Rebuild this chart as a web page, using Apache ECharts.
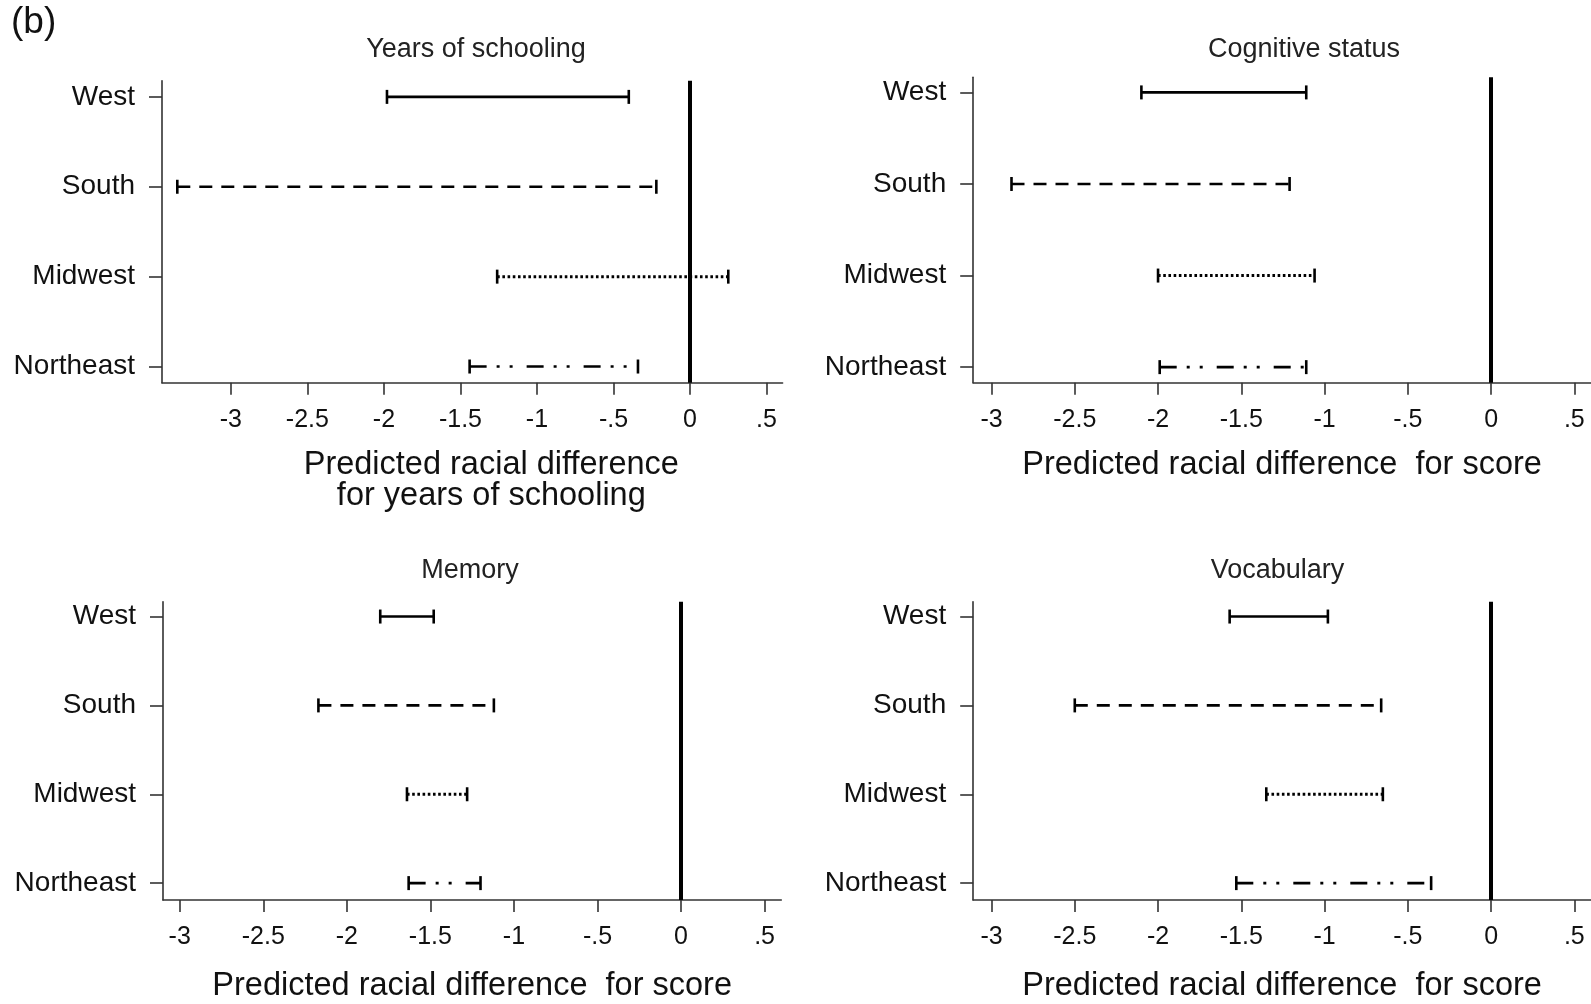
<!DOCTYPE html>
<html>
<head>
<meta charset="utf-8">
<script src="https://cdn.jsdelivr.net/npm/echarts@6/dist/echarts.min.js"></script>
<style>
html,body{margin:0;padding:0;background:#fff;}
#chart{width:1591px;height:1004px;}
</style>
</head>
<body>
<div id="chart"></div>
<script>
// ---------- data ----------
var categories = ['West', 'South', 'Midwest', 'Northeast'];
var tickValues = [-3, -2.5, -2, -1.5, -1, -0.5, 0, 0.5];
var tickLabels = ['-3', '-2.5', '-2', '-1.5', '-1', '-.5', '0', '.5'];

var panelTitles = ['Years of schooling', 'Cognitive status', 'Memory', 'Vocabulary'];
var axisTitles = [
  'Predicted racial difference\nfor years of schooling',
  'Predicted racial difference  for score',
  'Predicted racial difference  for score',
  'Predicted racial difference  for score'
];

var schoolingLow  = [-1.98, -3.35, -1.26, -1.44];
var schoolingHigh = [-0.40, -0.22,  0.25, -0.34];
var cognitiveLow  = [-2.10, -2.88, -2.00, -1.99];
var cognitiveHigh = [-1.11, -1.21, -1.06, -1.11];
var memoryLow     = [-1.80, -2.17, -1.64, -1.63];
var memoryHigh    = [-1.48, -1.12, -1.28, -1.20];
var vocabLow      = [-1.57, -2.50, -1.35, -1.53];
var vocabHigh     = [-0.98, -0.66, -0.65, -0.36];

var lows  = [schoolingLow, cognitiveLow, memoryLow, vocabLow];
var highs = [schoolingHigh, cognitiveHigh, memoryHigh, vocabHigh];

// ---------- layout / style ----------
var FONT = 'Liberation Sans, Arial, sans-serif';
var grids = [
  {left: 162,   top: 80.7,  width: 620.6, height: 302},
  {left: 973.2, top: 77.3,  width: 618.5, height: 305.4},
  {left: 163,   top: 601.7, width: 618.3, height: 307.8},
  {left: 973.2, top: 601.7, width: 618.5, height: 307.8}
];
var xRanges = [[-3.45, 0.605], [-3.11, 0.6], [-3.1, 0.6], [-3.11, 0.6]];
var yRanges = [[0.82, 4.18], [0.835, 4.17], [0.833, 4.19], [0.833, 4.19]];
var nameGaps = [67, 67, 71, 71];
var namePads = [[0, 0, 0, 38], 0, 0, 0];
var titlePos = [[476, 50], [1304, 50], [470, 571], [1277.5, 571]];
var dashStyles = [null, [13, 9], [2.6, 2.6], [17, 10, 3, 10, 3, 14]];

var axisColor = '#333';
var options = {
  animation: false,
  backgroundColor: '#fff',
  grid: [], xAxis: [], yAxis: [], series: [],
  graphic: []
};

options.graphic.push({
  type: 'text', left: 11, top: 4,
  style: {text: '(b)', font: '37px ' + FONT, fill: '#111'}
});

for (var p = 0; p < 4; p++) {
  options.grid.push(Object.assign({containLabel: false}, grids[p]));
  options.xAxis.push({
    type: 'value', gridIndex: p,
    min: xRanges[p][0], max: xRanges[p][1],
    axisLine: {show: true, onZero: false, lineStyle: {color: axisColor, width: 1.6}},
    axisTick: {show: true, length: 12, customValues: tickValues, lineStyle: {color: axisColor, width: 1.6}},
    axisLabel: {
      customValues: tickValues, margin: 25, fontSize: 25, fontFamily: FONT, color: '#111',
      formatter: function (v) { var i = tickValues.indexOf(v); return i >= 0 ? tickLabels[i] : ''; }
    },
    splitLine: {show: false},
    name: axisTitles[p], nameLocation: 'middle', nameGap: nameGaps[p],
    nameTextStyle: {fontSize: 32.5, fontFamily: FONT, color: '#111', lineHeight: 31, verticalAlign: 'top', padding: namePads[p]}
  });
  options.yAxis.push({
    type: 'value', gridIndex: p, inverse: true,
    min: yRanges[p][0], max: yRanges[p][1],
    axisLine: {show: true, onZero: false, lineStyle: {color: axisColor, width: 1.6}},
    axisTick: {show: true, length: 13, customValues: [1, 2, 3, 4], lineStyle: {color: axisColor, width: 1.6}},
    axisLabel: {
      customValues: [1, 2, 3, 4], margin: 27, fontSize: 28, fontFamily: FONT, color: '#111',
      formatter: function (v) { return categories[v - 1] || ''; }
    },
    splitLine: {show: false}
  });
  var data = [];
  for (var i = 0; i < categories.length; i++) {
    data.push([lows[p][i], highs[p][i], i + 1, i]);
  }
  options.series.push({
    type: 'custom', xAxisIndex: p, yAxisIndex: p,
    encode: {x: [0, 1], y: 2},
    data: data,
    clip: false,
    renderItem: function (params, api) {
      var a = api.coord([api.value(0), api.value(2)]);
      var b = api.coord([api.value(1), api.value(2)]);
      var idx = api.value(3);
      var dash = dashStyles[idx];
      var cap = 7;
      var lineStyle = {stroke: '#000', lineWidth: idx === 2 ? 3 : 2.6};
      if (dash) { lineStyle.lineDash = dash; }
      return {
        type: 'group',
        children: [
          {type: 'line', shape: {x1: a[0], y1: a[1], x2: b[0], y2: b[1]}, style: lineStyle},
          {type: 'line', shape: {x1: a[0], y1: a[1] - cap, x2: a[0], y2: a[1] + cap}, style: {stroke: '#000', lineWidth: 2.6}},
          {type: 'line', shape: {x1: b[0], y1: b[1] - cap, x2: b[0], y2: b[1] + cap}, style: {stroke: '#000', lineWidth: 2.6}}
        ]
      };
    },
    markLine: {
      silent: true, symbol: ['none', 'none'], label: {show: false},
      lineStyle: {color: '#000', width: 4, type: 'solid'},
      data: [{xAxis: 0}]
    }
  });
  options.graphic.push({
    type: 'text', x: titlePos[p][0], y: titlePos[p][1],
    style: {text: panelTitles[p], font: '27px ' + FONT, fill: '#222', textAlign: 'center', textVerticalAlign: 'middle'}
  });
}

var chart = echarts.init(document.getElementById('chart'), null, {renderer: 'canvas'});
chart.setOption(options);
</script>
</body>
</html>
